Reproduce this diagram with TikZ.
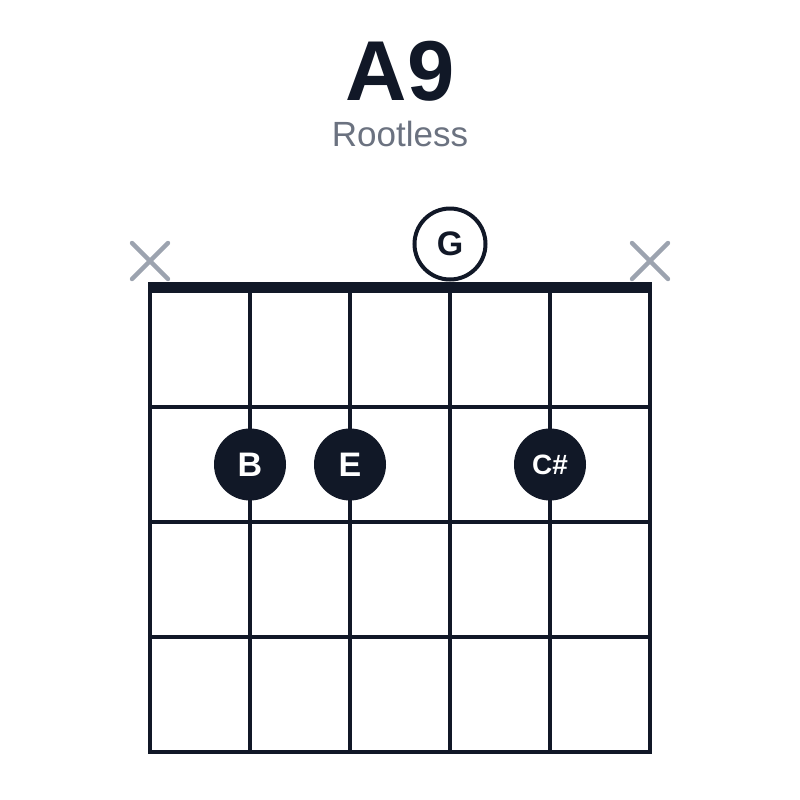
\documentclass[tikz,border=0pt]{standalone}
\usepackage{fontspec}
\setmainfont{Liberation Sans}
\definecolor{ink}{HTML}{111827}
\definecolor{subgray}{HTML}{6B7280}
\definecolor{xgray}{HTML}{9CA3AF}
\begin{document}
\begin{tikzpicture}[x=0.5pt,y=-0.5pt,
  gridline/.style={draw=ink,line width=2pt},
  nutline/.style={draw=ink,line width=5.5pt},
  fingerdot/.style={circle,fill=ink,text=white,minimum size=36pt,inner sep=0pt,font=\fontsize{17}{17}\selectfont\bfseries},
  opendot/.style={circle,draw=ink,fill=white,line width=2pt,text=ink,minimum size=35.5pt,inner sep=0pt,font=\fontsize{17}{17}\selectfont\bfseries},
  mutemark/.style={draw=xgray,line width=2.2pt,line cap=round}]
\useasboundingbox[fill=white] (0,0) rectangle (800,800);
% title
\node[anchor=base,text=ink,font=\fontsize{42.5}{42.5}\selectfont\bfseries,inner sep=0pt] (title) at (400,100) {A9};
\node[anchor=base,text=subgray,font=\fontsize{17.5}{17.5}\selectfont,inner sep=0pt] (subtitle) at (400,146) {Rootless};
% strings
\foreach \i/\x in {1/150,2/250,3/350,4/450,5/550,6/650}{
  \coordinate (st\i) at (\x,292);
  \coordinate (sb\i) at (\x,752);
  \draw[gridline] (st\i) -- (sb\i);
}
% frets
\foreach \j/\y in {1/407,2/522,3/637,4/752}{
  \coordinate (fl\j) at (150,\y);
  \coordinate (fr\j) at (650,\y);
  \draw[gridline,line cap=rect] (fl\j) -- (fr\j);
}
% nut
\coordinate (nutl) at (148,287.5);
\coordinate (nutr) at (652,287.5);
\draw[nutline] (nutl) -- (nutr);
% mute marks
\foreach \n/\x in {m1/150,m6/650}{
  \coordinate (\n a) at (\x-18,243);
  \coordinate (\n b) at (\x+18,279);
  \coordinate (\n c) at (\x-18,279);
  \coordinate (\n d) at (\x+18,243);
  \draw[mutemark] (\n a) -- (\n b);
  \draw[mutemark] (\n c) -- (\n d);
}
% open string
\node[opendot] (g) at (450,244) {G};
% fingered notes
\node[fingerdot] (b) at (250,464.5) {B};
\node[fingerdot] (e) at (350,464.5) {E};
\node[fingerdot,font=\fontsize{14}{14}\selectfont\bfseries] (cs) at (550,464.5) {C\#};
\end{tikzpicture}
\end{document}
